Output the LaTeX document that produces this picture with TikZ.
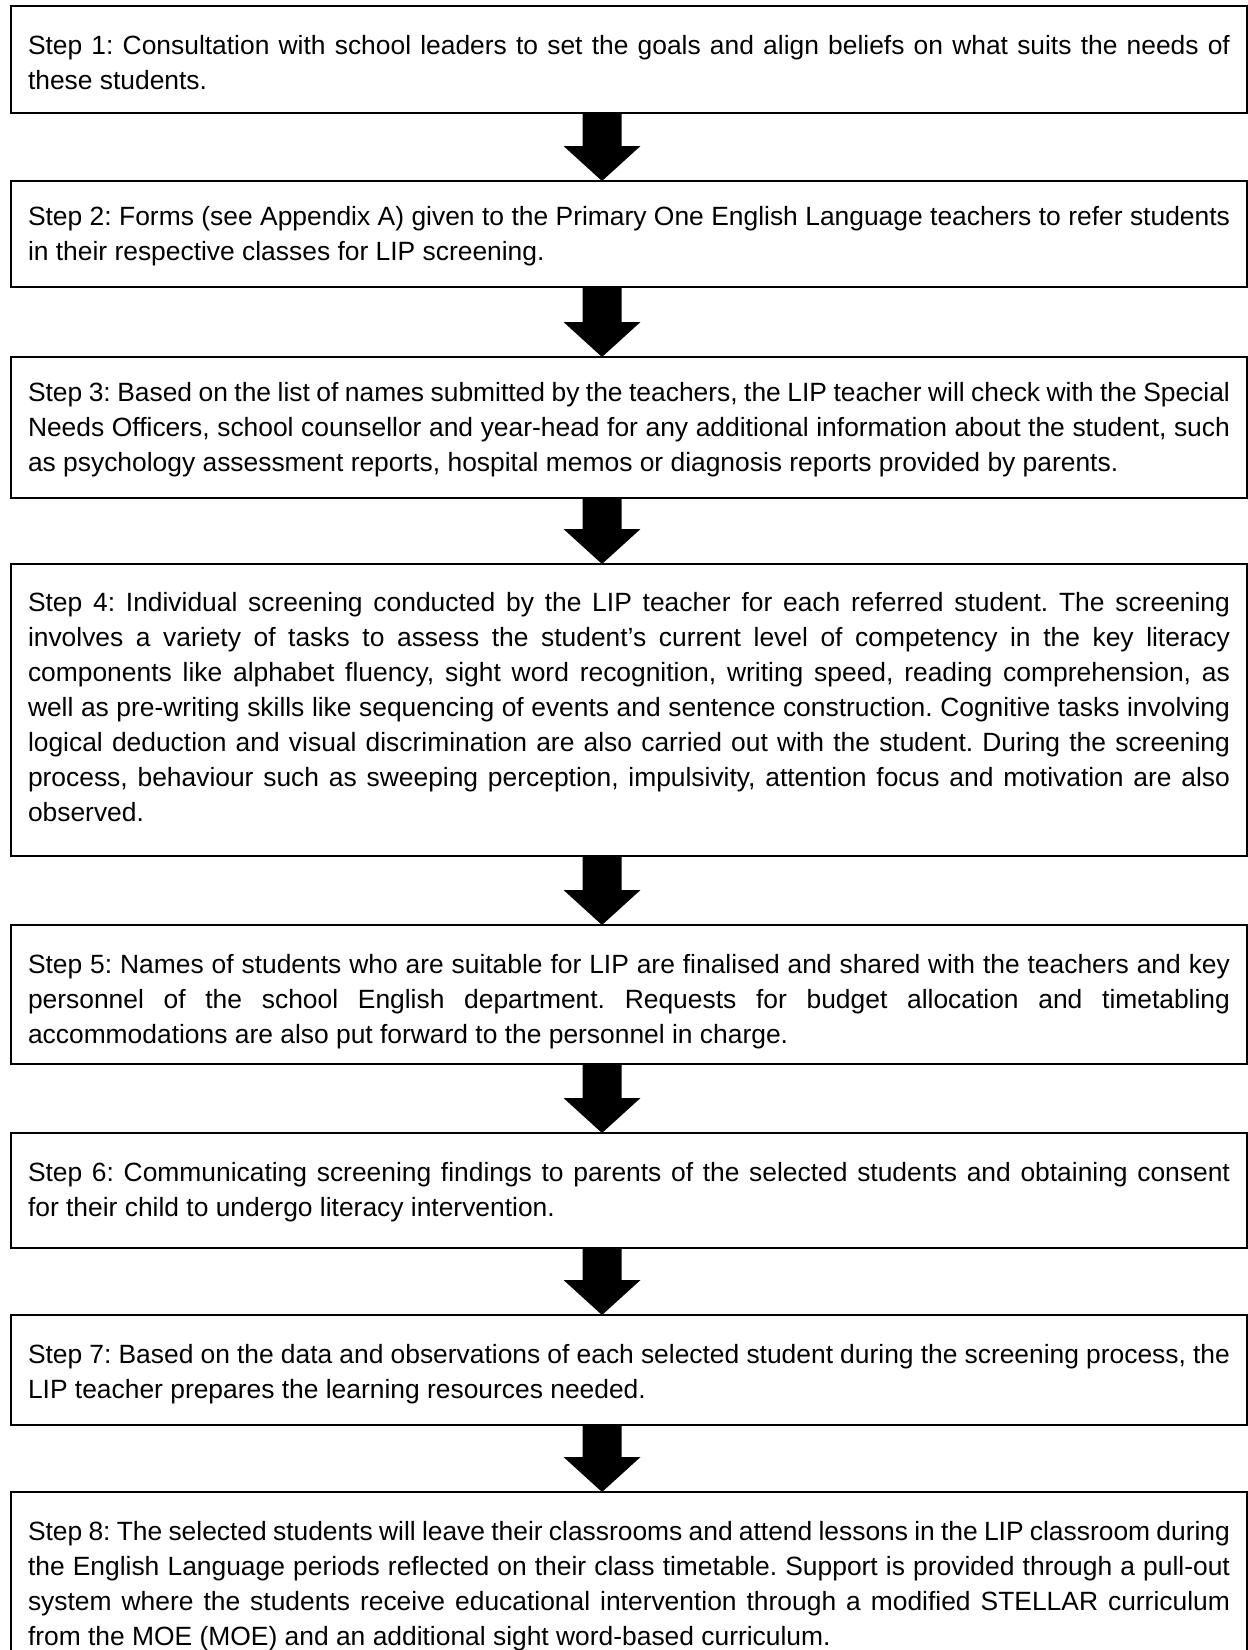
\documentclass[tikz,border=0pt]{standalone}
\usepackage{fontspec}
\setmainfont{Liberation Sans}
\usetikzlibrary{calc}
\frenchspacing
\newdimen\stepw \stepw=601pt
\newcommand\jl[1]{\hbox to\stepw{\spaceskip=0pt\xspaceskip=0pt\relax #1}}
\newcommand\lastl[1]{\hbox{\spaceskip=0pt\xspaceskip=0pt\relax #1}}
\newcommand\bigarrow[2]{%
  \fill let \p1=(#1.south -| ax), \p2=(#2.north -| ax) in
    (\x1-9.75pt,\y1) -- (\x1+9.75pt,\y1) -- (\x1+9.75pt,\y2+17.5pt)
    -- (\x1+19.25pt,\y2+17.5pt) -- (\x2,\y2) -- (\x1-19.25pt,\y2+17.5pt)
    -- (\x1-9.75pt,\y2+17.5pt) -- cycle;}
\begin{document}
\begin{tikzpicture}[x=0.5pt,y=-0.5pt,
  stepbox/.style={draw=black, line width=1.1pt, fill=none, anchor=north west,
    outer sep=0pt, inner xsep=8.5pt, inner ysep=0pt,
    minimum width=618pt, text width=601pt, align=left,
    font=\fontsize{13.2pt}{17.5pt}\selectfont\frenchspacing}]
\useasboundingbox (0,0) rectangle (1248,1650);
\clip (0,0) rectangle (1248,1650);
\coordinate (ax) at (602,0);

\node[stepbox, text height=24pt, text depth=29.5pt] (b1) at (11,6)
 {\jl{Step 1: Consultation with school leaders to set the goals and align beliefs on what suits the needs of}
  \lastl{these students.}};

\node[stepbox, text height=22pt, text depth=31pt] (b2) at (11,181)
 {\jl{Step 2: Forms (see Appendix A) given to the Primary One English Language teachers to refer students}
  \lastl{in their respective classes for LIP screening.}};

\node[stepbox, text height=22pt, text depth=48.5pt] (b3) at (11,357)
 {\jl{Step 3: Based on the list of names submitted by the teachers, the LIP teacher will check with the Special}
  \jl{Needs Officers, school counsellor and year-head for any additional information about the student, such}
  \lastl{as psychology assessment reports, hospital memos or diagnosis reports provided by parents.}};

\node[stepbox, text height=23.5pt, text depth=122.5pt] (b4) at (11,564)
 {\jl{Step 4: Individual screening conducted by the LIP teacher for each referred student. The screening}
  \jl{involves a variety of tasks to assess the student’s current level of competency in the key literacy}
  \jl{components like alphabet fluency, sight word recognition, writing speed, reading comprehension, as}
  \jl{well as pre-writing skills like sequencing of events and sentence construction. Cognitive tasks involving}
  \jl{logical deduction and visual discrimination are also carried out with the student. During the screening}
  \jl{process, behaviour such as sweeping perception, impulsivity, attention focus and motivation are also}
  \lastl{observed.}};

\node[stepbox, text height=24pt, text depth=45.5pt] (b5) at (11,925)
 {\jl{Step 5: Names of students who are suitable for LIP are finalised and shared with the teachers and key}
  \jl{personnel of the school English department.  Requests for budget allocation and timetabling}
  \lastl{accommodations are also put forward to the personnel in charge.}};

\node[stepbox, text height=24pt, text depth=33.5pt] (b6) at (11,1133)
 {\jl{Step 6: Communicating screening findings to parents of the selected students and obtaining consent}
  \lastl{for their child to undergo literacy intervention.}};

\node[stepbox, text height=24pt, text depth=31pt] (b7) at (11,1315)
 {\jl{Step 7: Based on the data and observations of each selected student during the screening process, the}
  \lastl{LIP teacher prepares the learning resources needed.}};

\node[stepbox, text height=24pt, text depth=78pt] (b8) at (11,1492)
 {\jl{Step 8: The selected students will leave their classrooms and attend lessons in the LIP classroom during}
  \jl{the English Language periods reflected on their class timetable. Support is provided through a pull-out}
  \jl{system where the students receive educational intervention through a modified STELLAR curriculum}
  \lastl{from the MOE (MOE) and an additional sight word-based curriculum.}};

\bigarrow{b1}{b2}
\bigarrow{b2}{b3}
\bigarrow{b3}{b4}
\bigarrow{b4}{b5}
\bigarrow{b5}{b6}
\bigarrow{b6}{b7}
\bigarrow{b7}{b8}
\end{tikzpicture}
\end{document}
